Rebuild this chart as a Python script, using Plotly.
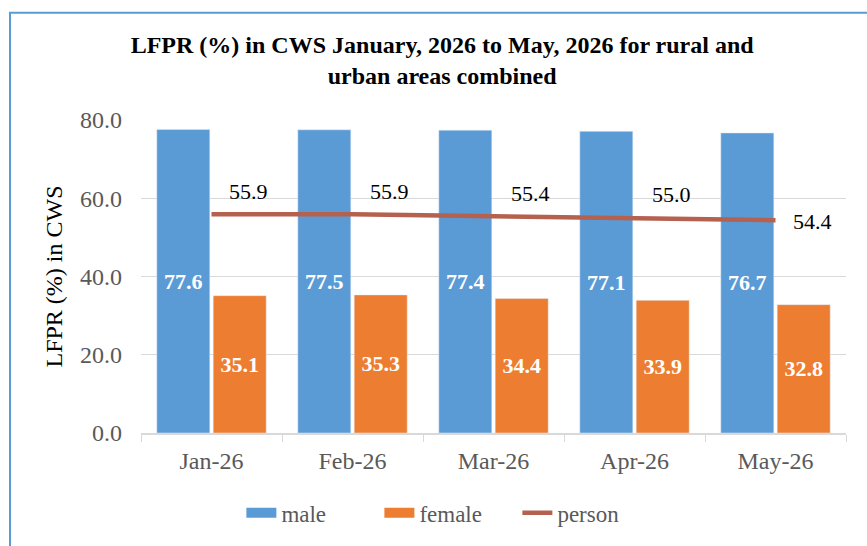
import plotly.graph_objects as go

months = ["Jan-26", "Feb-26", "Mar-26", "Apr-26", "May-26"]
male = [77.6, 77.5, 77.4, 77.1, 76.7]
female = [35.1, 35.3, 34.4, 33.9, 32.8]
person = [55.9, 55.9, 55.4, 55.0, 54.4]
y_ticks = [0, 20, 40, 60, 80]

BLUE = "#5B9BD5"
ORANGE = "#ED7D31"
RED = "#B5614F"
GRAY = "#595959"
SERIF = "'Liberation Serif', 'Times New Roman', serif"

fig = go.Figure()
fig.add_trace(go.Bar(
    x=months, y=male, name="male", marker_color=BLUE, showlegend=False,
    legendgroup="male",
    text=[f"{v:.1f}" for v in male], textposition="inside",
    insidetextanchor="middle", textangle=0,
    textfont=dict(family=SERIF, size=22, color="white", weight="bold"),
))
fig.add_trace(go.Bar(
    x=months, y=female, name="female", marker_color=ORANGE, showlegend=False,
    legendgroup="female",
    text=[f"{v:.1f}" for v in female], textposition="inside",
    insidetextanchor="middle", textangle=0,
    textfont=dict(family=SERIF, size=22, color="white", weight="bold"),
))
# legend swatches (wide rectangles like the original)
fig.add_trace(go.Scatter(x=[None], y=[None], name="male", mode="lines",
                         legendgroup="male", line=dict(color=BLUE, width=12)))
fig.add_trace(go.Scatter(x=[None], y=[None], name="female", mode="lines",
                         legendgroup="female", line=dict(color=ORANGE, width=12)))
fig.add_trace(go.Scatter(
    x=months, y=person, name="person", mode="lines",
    line=dict(color=RED, width=4.5),
))

annotations = []
for i, (m, v) in enumerate(zip(months, person)):
    last = i == len(months) - 1
    annotations.append(dict(
        x=m, y=v, xref="x", yref="y", text=f"{v:.1f}", showarrow=False,
        xanchor="left" if last else "center",
        xshift=15 if last else 37, yshift=-1 if last else 23,
        font=dict(family=SERIF, size=22, color="black"),
    ))

fig.update_layout(
    width=867, height=546,
    margin=dict(l=141, r=21, t=120, b=111),
    paper_bgcolor="white", plot_bgcolor="white",
    barmode="group", bargap=0.2, bargroupgap=0.06,
    title=dict(
        text="LFPR (%) in CWS January, 2026 to May, 2026 for rural and<br>urban areas combined",
        x=0.51, xanchor="center", y=1 - 53 / 546, yanchor="middle", yref="container",
        font=dict(family=SERIF, size=24, color="black", weight="bold"),
    ),
    font=dict(family=SERIF, color=GRAY),
    xaxis=dict(
        showgrid=False, showline=True, linecolor="#D9D9D9", linewidth=1.5,
        ticks="outside", tickson="boundaries", ticklen=7, tickcolor="#D9D9D9",
        tickfont=dict(family=SERIF, size=24, color=GRAY), ticklabelstandoff=5,
    ),
    yaxis=dict(
        range=[0, 80], tickvals=y_ticks, ticktext=[f"{v:.1f}" for v in y_ticks],
        showgrid=True, gridcolor="#D9D9D9", gridwidth=1, zeroline=False,
        showline=False, tickfont=dict(family=SERIF, size=24, color=GRAY),
        ticklabelstandoff=18,
        title=dict(text="LFPR (%) in CWS", font=dict(family=SERIF, size=24, color="black"), standoff=10),
    ),
    legend=dict(
        orientation="h", x=0.436, xanchor="center", y=-0.255, yanchor="middle",
        font=dict(family=SERIF, size=23, color=GRAY), itemwidth=30,
        entrywidth=93, entrywidthmode="pixels",
    ),
    annotations=annotations,
    shapes=[dict(
        type="rect", xref="paper", yref="paper",
        x0=(10 - 141) / 705, x1=(880 - 141) / 705,
        y0=(435 - 600) / 315, y1=(435 - 12) / 315,
        line=dict(color=BLUE, width=2), fillcolor="rgba(0,0,0,0)", layer="below",
    )],
)

fig.write_html("out.html", config={"displayModeBar": False},
               post_script="document.body.style.margin='0';")
